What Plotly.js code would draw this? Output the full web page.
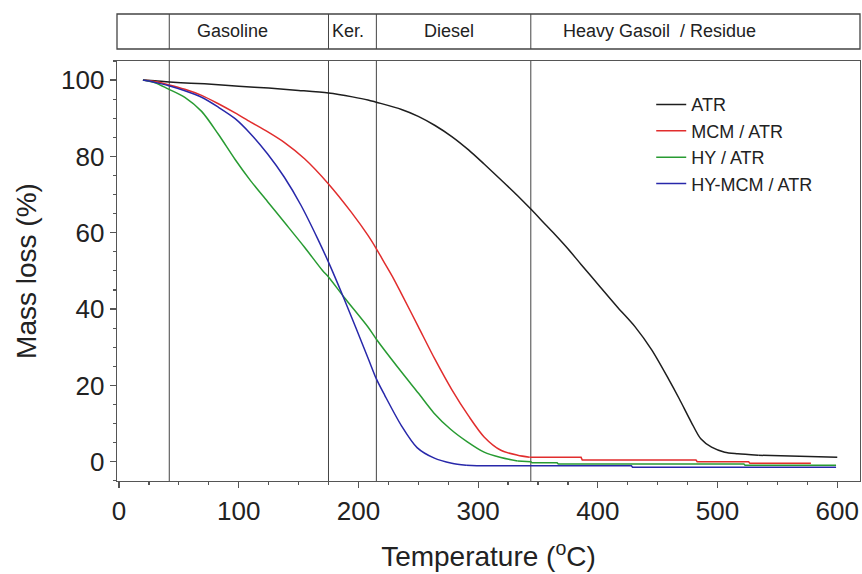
<!DOCTYPE html>
<html><head><meta charset="utf-8">
<script src="https://cdn.plot.ly/plotly-3.0.1.min.js"></script>
<style>html,body{margin:0;padding:0;background:#fff}</style>
</head><body><div id="chart" style="width:862px;height:574px"></div>
<script>
// ---- data ----
const seriesNames = ['ATR', 'MCM / ATR', 'HY / ATR', 'HY-MCM / ATR'];

const atrT = [20, 30, 42, 60, 83, 100, 125, 150, 175, 195, 208, 215, 236, 250, 264, 278, 292, 305, 319, 333, 344, 354, 364, 375, 386, 402, 417, 431, 445, 459, 468, 478, 486, 495, 506, 517, 534, 555, 576, 578, 600];
const atrM = [100, 99.8, 99.5, 99.2, 98.8, 98.4, 97.9, 97.3, 96.6, 95.6, 94.8, 94.2, 92.3, 90.5, 88.1, 85.2, 81.7, 78.0, 73.9, 69.7, 66.2, 62.9, 59.6, 55.8, 51.7, 45.8, 40.3, 35.4, 29.3, 21.7, 16.5, 10.4, 6.0, 3.8, 2.5, 2.1, 1.7, 1.6, 1.5, 1.3, 1.2];

const mcmT = [20, 30, 41, 55, 69, 83, 97, 110, 124, 138, 155, 175, 194, 208, 215, 222, 229, 236, 250, 264, 278, 292, 305, 319, 333, 343, 386, 387, 482, 483, 526, 527, 578];
const mcmM = [100, 99.6, 98.8, 97.6, 96.0, 93.8, 91.4, 89.0, 86.5, 83.7, 79.4, 72.8, 65.4, 59.3, 55.8, 52.0, 48.2, 44.0, 35.4, 26.8, 18.9, 12.0, 6.5, 3.0, 1.7, 1.2, 1.15, 0.45, 0.45, 0.0, 0.0, -0.42, -0.42];

const hyT = [20, 30, 41, 55, 69, 83, 97, 110, 124, 138, 155, 170, 175, 188, 208, 215, 236, 250, 263, 277, 291, 305, 319, 333, 344, 345, 366, 367, 522, 523, 599];
const hyM = [100, 99.3, 97.7, 95.5, 91.8, 85.8, 79.2, 73.6, 68.2, 62.8, 56.2, 50.1, 48.4, 43.1, 35.3, 32.1, 23.5, 18.0, 12.8, 8.5, 5.2, 2.5, 1.1, 0.2, 0.0, -0.3, -0.3, -0.6, -0.6, -0.95, -0.95];

const hymcmT = [20, 30, 41, 55, 69, 83, 97, 110, 124, 138, 152, 166, 175, 188, 208, 215, 222, 236, 249, 263, 278, 290, 299, 428, 429, 599];
const hymcmM = [100, 99.4, 98.6, 97.2, 95.5, 92.9, 89.9, 85.9, 80.7, 74.6, 67.2, 58.4, 52.3, 42.7, 27.2, 21.7, 17.4, 9.4, 3.7, 1.0, -0.4, -0.9, -1.05, -1.05, -1.45, -1.45];

const cutTemps = [42, 175, 215, 344];
const bandLabels = ['Gasoline', 'Ker.', 'Diesel', 'Heavy Gasoil  / Residue'];

const xTickVals = [0, 100, 200, 300, 400, 500, 600];
const yTickVals = [0, 20, 40, 60, 80, 100];

// ---- styling / layout ----
const FONT = 'Arial, "Liberation Sans", sans-serif';
const colors = ['rgb(30,30,30)', 'rgb(225,45,45)', 'rgb(40,155,50)', 'rgb(40,40,170)'];
const xs = [atrT, mcmT, hyT, hymcmT];
const ys = [atrM, mcmM, hyM, hymcmM];
// temperature from which each record is drawn as a plain (stepped) line instead of a smooth curve
const stepFrom = [534, 343, 333, 290];

const bodies = [], tails = [];
seriesNames.forEach((n, i) => {
  const k = xs[i].findIndex(t => t >= stepFrom[i]);
  bodies.push({
    type: 'scatter', mode: 'lines', name: n,
    x: xs[i].slice(0, k + 1), y: ys[i].slice(0, k + 1),
    line: {color: colors[i], width: 1.5, shape: 'spline', smoothing: 0.8}
  });
  tails.push({
    type: 'scatter', mode: 'lines', name: n, showlegend: false,
    x: xs[i].slice(k), y: ys[i].slice(k),
    line: {color: colors[i], width: 1.5}
  });
});
const traces = bodies.concat(tails);

const boxY0 = 1.0286, boxY1 = 1.1119;
const lineCol = '#444';
const shapes = [];
shapes.push({type: 'rect', xref: 'paper', yref: 'paper', x0: 0, x1: 1, y0: boxY0, y1: boxY1,
  line: {color: lineCol, width: 1.3}, fillcolor: 'rgba(0,0,0,0)'});
cutTemps.forEach(t => {
  shapes.push({type: 'line', xref: 'x', yref: 'paper', x0: t, x1: t, y0: 0, y1: 1, layer: 'below',
    line: {color: lineCol, width: 1}});
  shapes.push({type: 'line', xref: 'x', yref: 'paper', x0: t, x1: t, y0: boxY0, y1: boxY1,
    line: {color: lineCol, width: 1}});
});

const bandLabelX = [95, 191.5, 275.5, 451.5];
const annotations = bandLabels.map((s, i) => ({
  text: s, xref: 'x', yref: 'paper', x: bandLabelX[i], y: (boxY0 + boxY1) / 2,
  xanchor: 'center', yanchor: 'middle', showarrow: false,
  font: {family: FONT, size: 18, color: '#222'}
}));

const axisCommon = {
  showline: true, mirror: true, linecolor: '#555', linewidth: 1.3,
  ticks: 'outside', ticklen: 6, tickwidth: 1.2, tickcolor: '#555',
  showgrid: false, zeroline: false,
  tickfont: {family: FONT, size: 26, color: '#222'}
};

const layout = {
  width: 862, height: 574,
  margin: {l: 117, r: 2, t: 61, b: 93},
  paper_bgcolor: '#fff', plot_bgcolor: '#fff',
  font: {family: FONT, color: '#222'},
  xaxis: Object.assign({}, axisCommon, {
    range: [-1.67, 619], tickvals: xTickVals,
    minor: {dtick: 25, ticks: 'outside', ticklen: 3, tickcolor: '#555', showgrid: false},
    title: {text: 'Temperature (<sup>o</sup>C)', font: {family: FONT, size: 28, color: '#222'}, standoff: 22}
  }),
  yaxis: Object.assign({}, axisCommon, {
    range: [-5.05, 105], tickvals: yTickVals,
    minor: {dtick: 5, ticks: 'outside', ticklen: 3, tickcolor: '#555', showgrid: false},
    title: {text: 'Mass loss (%)', font: {family: FONT, size: 28, color: '#222'}, standoff: 16}
  }),
  legend: {x: 0.719, xanchor: 'left', y: 0.94, yanchor: 'top', bgcolor: 'rgba(0,0,0,0)',
    traceorder: 'normal', font: {family: FONT, size: 18, color: '#222'}},
  shapes: shapes,
  annotations: annotations
};

Plotly.newPlot('chart', traces, layout, {displayModeBar: false, staticPlot: true});
</script>
</body></html>
